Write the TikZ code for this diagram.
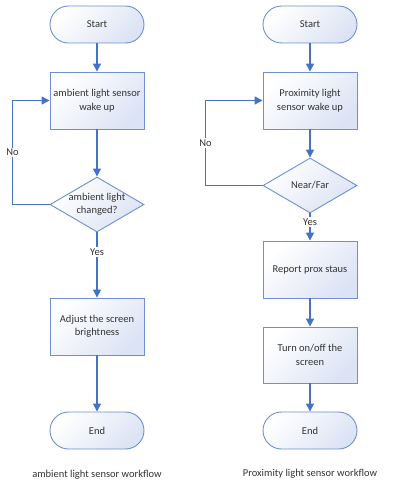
\documentclass[tikz,border=0pt]{standalone}
\usepackage{fontspec}
\setmainfont{Carlito}
\usepackage{xcolor}
\usepackage{tikz}
\usetikzlibrary{arrows.meta,positioning,shapes.geometric}
\definecolor{flowblue}{HTML}{4472C4}
\definecolor{edgeblue}{HTML}{6F8FD2}
\definecolor{boxfill}{HTML}{DCE3F4}
\definecolor{txtgray}{HTML}{333333}

\begin{document}
\begin{tikzpicture}[x=1pt, y=-1pt,
  base/.style={draw=edgeblue, line width=0.9pt, top color=white, bottom color=boxfill, shading angle=45,
    text=txtgray, align=center, font=\fontsize{10.5}{13.5}\selectfont},
  term/.style={base, rectangle, rounded corners=18.5pt, minimum width=94pt, minimum height=37pt},
  proc/.style={base, rectangle, minimum width=94pt, minimum height=57pt},
  decis/.style={base, diamond, aspect=1.7, inner sep=-3pt, minimum width=94pt, minimum height=55pt},
  flow/.style={draw=flowblue, line width=1.3pt, -{Triangle[width=8pt, length=8pt]}},
  lbl/.style={fill=white, text=txtgray, inner sep=1.5pt, font=\fontsize{10.5}{12}\selectfont},
  captext/.style={text=txtgray, font=\fontsize{10.5}{12}\selectfont}]
  \useasboundingbox (0,0) rectangle (395,487);

  % 1. Cot trai: ambient light
  \node[term] (start1) at (97,24.5) {Start};
  \node[proc] (wake1) at (97,100.5) {ambient light sensor\\wake up};
  \node[decis] (chg1) at (97,204.5) {ambient light\\changed?};
  \node[proc] (adj1) at (97,326.5) {Adjust the screen\\brightness};
  \node[term] (end1) at (97,430.5) {End};
  \node[captext] (cap1) at (97,475) {ambient light sensor workflow};

  % 2. Mui ten cot trai
  \draw[flow] (start1) -- (wake1);
  \draw[flow] (wake1) -- (chg1);
  \draw[flow] (chg1) -- node[lbl, pos=0.3] {Yes} (adj1);
  \draw[flow] (adj1) -- (end1);
  \draw[flow] (chg1.west) -- ++(-37,0) |- node[lbl, pos=0.25] {No} (wake1.west);

  % 3. Cot phai: proximity
  \node[term] (start2) at (310,24.5) {Start};
  \node[proc] (wake2) at (310,100.5) {Proximity light\\sensor wake up};
  \node[decis] (near2) at (310,185.5) {Near/Far};
  \node[proc] (rep2) at (310,269.5) {Report prox staus};
  \node[proc, minimum height=56pt] (turn2) at (310,355) {Turn on/off the\\screen};
  \node[term] (end2) at (310,430.5) {End};
  \node[captext] (cap2) at (310,474) {Proximity light sensor workflow};

  % 4. Mui ten cot phai
  \draw[flow] (start2) -- (wake2);
  \draw[flow] (wake2) -- (near2);
  \draw[flow] (near2) -- node[lbl, pos=0.33] {Yes} (rep2);
  \draw[flow] (rep2) -- (turn2);
  \draw[flow] (turn2) -- (end2);
  \draw[flow] (near2.west) -- ++(-57,0) |- node[lbl, pos=0.25] {No} (wake2.west);
\end{tikzpicture}
\end{document}
